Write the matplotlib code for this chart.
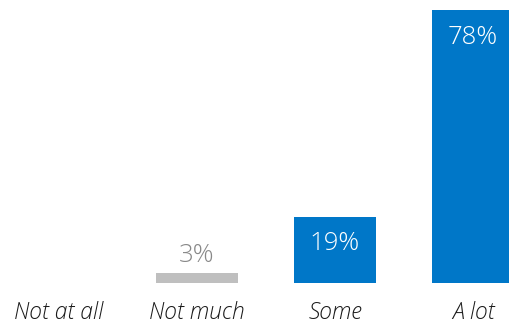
import matplotlib.pyplot as plt

categories = ["Not at all", "Not much", "Some", "A lot"]
values = [0, 3, 19, 78]
labels = ["", "3%", "19%", "78%"]
colors = ["#bfbfbf", "#bfbfbf", "#0077c8", "#0077c8"]

plt.rcParams['font.family'] = ['Open Sans', 'DejaVu Sans']

fig = plt.figure(figsize=(5.1, 3.24), dpi=100)
ax = fig.add_axes([0, 1 - 283 / 324, 1, 283 / 324])

x = range(len(categories))
ax.bar(x, values, width=82 / 138, color=colors)

for i, v in enumerate(values):
    if not labels[i]:
        continue
    if v > 10:
        ax.annotate(labels[i], (i, v), xytext=(0, -27), textcoords='offset pixels',
                    ha='center', va='center', color='white', fontsize=18.5,
                    fontweight='light')
    else:
        ax.annotate(labels[i], (i, v), xytext=(0, 17), textcoords='offset pixels',
                    ha='center', va='center', color='#888888', fontsize=18.5,
                    fontweight='light')

ax.set_xlim(-59 / 138, 451 / 138)
ax.set_ylim(0, 78 * 283 / 273)
ax.axis('off')

for i, c in enumerate(categories):
    ax.annotate(c, (i, 0), xytext=(0, -30), textcoords='offset pixels',
                ha='center', va='center', fontsize=16.5, style='italic',
                fontweight='light', color='#1a1a1a')

fig.savefig("out.png", dpi=100)
